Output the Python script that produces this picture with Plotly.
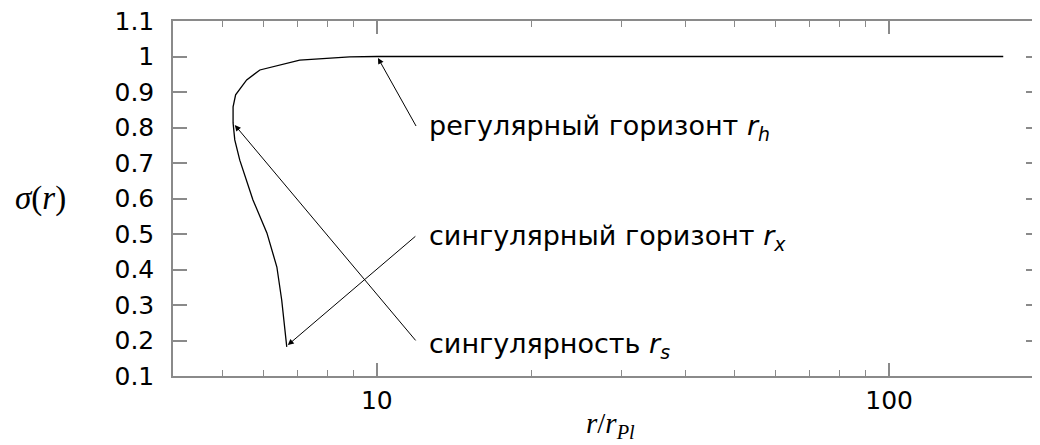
import plotly.graph_objects as go
import numpy as np

# curve data
r_vals = [6.67, 6.61, 6.52, 6.38, 6.10, 5.73, 5.40, 5.28, 5.24, 5.24, 5.30, 5.57, 5.91, 7.07, 8.85, 10.0, 20.0, 60.0, 167.0]
sigma_vals = [0.182, 0.238, 0.314, 0.407, 0.503, 0.596, 0.708, 0.765, 0.813, 0.858, 0.892, 0.934, 0.962, 0.990, 0.999, 1.0, 1.0, 1.0, 1.0]

y_tickvals = [0.1, 0.2, 0.3, 0.4, 0.5, 0.6, 0.7, 0.8, 0.9, 1.0, 1.1]
y_ticktext = ["0.1", "0.2", "0.3", "0.4", "0.5", "0.6", "0.7", "0.8", "0.9", "1", "1.1"]
x_tickvals = [10, 100]
x_ticktext = ["10", "100"]
x_minor = [5, 6, 7, 8, 9, 20, 30, 40, 50, 60, 70, 80, 90]

labels = ["регулярный горизонт <i>r</i><sub><i>h</i></sub>",
          "сингулярный горизонт <i>r</i><sub><i>x</i></sub>",
          "сингулярность <i>r</i><sub><i>s</i></sub>"]
label_r = [12.5, 12.5, 12.5]
label_s = [0.80, 0.49, 0.185]
arrow_head_r = [10.05, 6.70, 5.28]
arrow_head_s = [0.996, 0.187, 0.807]
arrow_tail_r = [11.97, 11.97, 11.97]
arrow_tail_s = [0.80, 0.497, 0.196]

SANS = "DejaVu Sans"
SERIF = "Liberation Serif"
FRAME = "#8a8a8a"

fig = go.Figure()
fig.add_trace(go.Scatter(x=r_vals, y=sigma_vals, mode="lines",
                         line=dict(color="black", width=1.3), showlegend=False,
                         hoverinfo="skip"))

annotations = []
for i in range(3):
    annotations.append(dict(
        x=np.log10(arrow_head_r[i]), y=arrow_head_s[i], xref="x", yref="y",
        ax=np.log10(arrow_tail_r[i]), ay=arrow_tail_s[i], axref="x", ayref="y",
        text="", showarrow=True, arrowhead=2, arrowsize=1.2, arrowwidth=1,
        arrowcolor="black"))
    annotations.append(dict(
        x=np.log10(label_r[i]), y=label_s[i], xref="x", yref="y",
        text=labels[i], showarrow=False, xanchor="left", yanchor="middle",
        font=dict(family=SANS, size=27, color="black")))

annotations.append(dict(x=-0.153, y=0.6, xref="paper", yref="y",
                        text="<i>σ</i>(<i>r</i>)", showarrow=False,
                        xanchor="center", yanchor="middle",
                        font=dict(family=SERIF, size=33, color="black")))
annotations.append(dict(x=0.505, y=-0.138, xref="paper", yref="paper",
                        text="<i>r</i>/<i>r</i><sub><i>Pl</i></sub>", showarrow=False,
                        xanchor="center", yanchor="middle",
                        font=dict(family=SERIF, size=29, color="black")))

fig.update_layout(
    width=1032, height=437,
    margin=dict(l=165, r=0, t=13, b=69, autoexpand=False),
    paper_bgcolor="white", plot_bgcolor="white",
    annotations=annotations,
    xaxis=dict(type="log", range=[np.log10(4), np.log10(197)],
               tickvals=x_tickvals, ticktext=x_ticktext,
               ticks="inside", ticklen=13, tickwidth=1.5, tickcolor=FRAME,
               minor=dict(tickvals=x_minor, ticks="inside", ticklen=6,
                          tickwidth=1.2, tickcolor=FRAME, showgrid=False),
               showline=True, linecolor=FRAME, linewidth=1.5, mirror="allticks",
               showgrid=False, zeroline=False, automargin=False,
               ticklabeloverflow="allow",
               tickfont=dict(family=SANS, size=25, color="black"),
               ticklabelstandoff=1),
    yaxis=dict(range=[0.1, 1.1], tickvals=y_tickvals, ticktext=y_ticktext,
               ticks="inside", ticklen=14, tickwidth=1.5, tickcolor=FRAME,
               showline=True, linecolor=FRAME, linewidth=1.5, mirror="allticks",
               showgrid=False, zeroline=False, automargin=False,
               ticklabeloverflow="allow",
               tickfont=dict(family=SANS, size=25, color="black"),
               ticklabelstandoff=12),
)

fig.write_html("out.html")
